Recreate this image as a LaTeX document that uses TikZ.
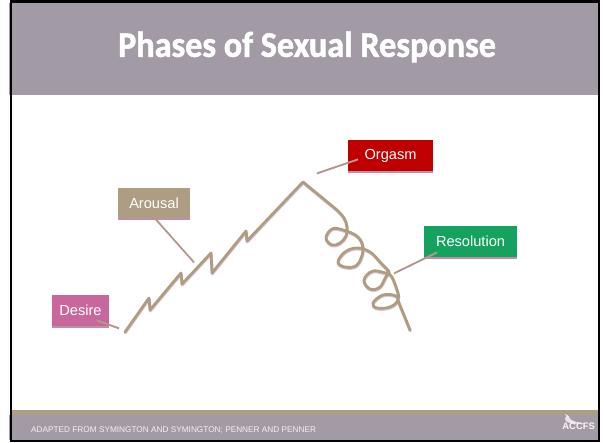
\documentclass[tikz,border=0pt]{standalone}
\usepackage{fontspec}
\usetikzlibrary{shadows}
\setmainfont{Liberation Sans}
\newfontfamily\titlefont[FakeStretch=.95,FakeBold=1.5]{Carlito}
\definecolor{hdr}{HTML}{A29BA6}
\definecolor{tanc}{HTML}{AE9C83}
\definecolor{pinkb}{HTML}{C7679B}
\definecolor{redb}{HTML}{C00000}
\definecolor{greenb}{HTML}{15A25F}
\definecolor{shadec}{HTML}{BE8FA8}
\tikzset{
  labelbox/.style={minimum height=31pt,inner sep=0pt,text=white,font=\fontsize{14.6pt}{16pt}\selectfont,
    drop shadow={shadow xshift=0pt,shadow yshift=-1.5pt,fill=shadec,opacity=1}},
  leader/.style={draw=tanc,line width=1.1pt,preaction={draw=shadec,line width=1.5pt,transform canvas={yshift=-.6pt}}},
  curvebase/.style={line width=2.8pt,line join=round,line cap=round},
  curve/.style={curvebase,draw=tanc},
  curveshade/.style={curvebase,draw=shadec,line width=3pt,opacity=.5,transform canvas={xshift=.3pt,yshift=-1pt}}
}
\newcommand{\zigpath}{(125,332) -- (149,298) -- (150,310) -- (181,273) -- (182,284) -- (211,253) -- (212,273) -- (246,231) -- (247,241) -- (303,182) -- (337,210)}
\newcommand{\spiralpath}{plot[smooth,tension=.65] coordinates {(337,210) (344,218) (347,227) (346,236) (340,243) (332,245) (326,238) (332,229) (343,230) (358,237) (363,250) (357,265) (345,267) (338,262) (345,252) (357,248) (370,252) (380,262) (389,273) (373,271) (364,280) (370,289) (380,287) (389,274) (397,290) (398,300) (390,307) (377,308) (373,303) (383,295) (396,296) (399,303) (410,330)}}
\begin{document}
\begin{tikzpicture}[x=1pt,y=-1pt]
\useasboundingbox (0,0) rectangle (604,442);
\fill[white] (0,0) rectangle (604,442);
\fill[hdr] (9,3) rectangle (598,95);
\fill[tanc] (12,410) rectangle (598,415);
\fill[hdr] (9,415) rectangle (598,440);
\draw[black,line width=2pt] (11,1) rectangle (599,441);
\draw[black,line width=3pt] (10,1.5) -- (600,1.5);
\node[text=white,font=\titlefont\bfseries\fontsize{36pt}{38pt}\selectfont] (title) at (307,47) {Phases of Sexual Response};
\node[text=white!85!hdr,anchor=west,inner sep=0pt,font=\fontsize{8.25pt}{9pt}\selectfont] (foot) at (31,430) {ADAPTED FROM SYMINGTON AND SYMINGTON; PENNER AND PENNER};
\fill[white!75!hdr] (565,414) .. controls (574,417) and (563,420) .. (584,423.5) -- (572,423.5) .. controls (558,420) and (570,417) .. (565,414) -- cycle;
\node[text=white!92!hdr,anchor=east,inner sep=0pt,font=\bfseries\fontsize{9.4pt}{10pt}\selectfont] (logo) at (595,426.5) {ACCFS};
\draw[curveshade] \zigpath;
\draw[curveshade] \spiralpath;
\draw[curve] \zigpath;
\draw[curve] \spiralpath;
\coordinate (dtip) at (119,328);
\coordinate (atip) at (194,262);
\coordinate (otip) at (317,173);
\coordinate (rtip) at (394,273);
\coordinate (dbase) at (97,320);
\coordinate (abase) at (155,218);
\coordinate (obase) at (358,159);
\coordinate (rbase) at (437,252);
\node[labelbox,fill=pinkb,minimum width=57pt] (desire) at (80.5,310.5) {Desire};
\node[labelbox,fill=tanc,minimum width=72pt,minimum height=30pt] (arousal) at (154,203) {Arousal};
\node[labelbox,fill=redb,minimum width=85pt] (orgasm) at (390.5,155.5) {Orgasm};
\node[labelbox,fill=greenb,minimum width=93pt] (resolution) at (470.5,241.5) {Resolution};
\draw[leader] (dbase) -- (dtip);
\draw[leader] (abase) -- (atip);
\draw[leader] (obase) -- (otip);
\draw[leader] (rbase) -- (rtip);
\end{tikzpicture}
\end{document}
